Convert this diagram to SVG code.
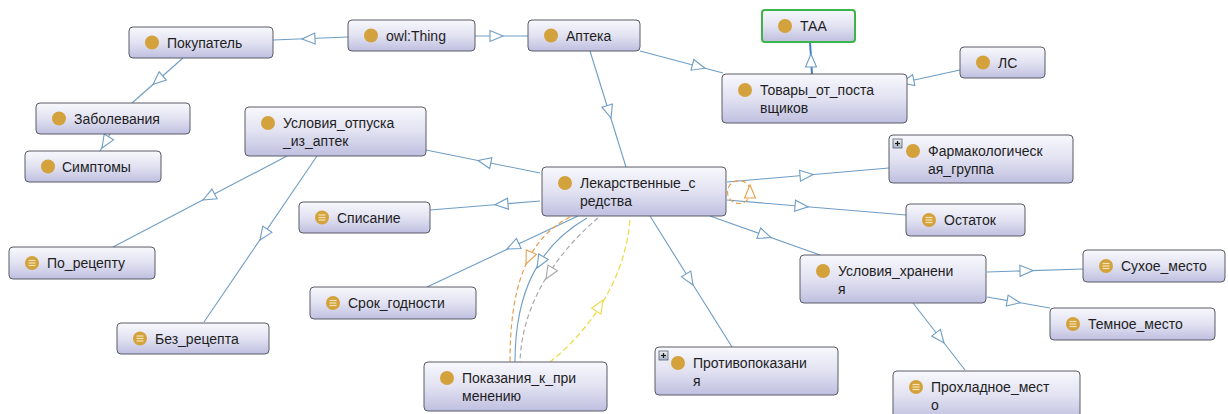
<svg xmlns="http://www.w3.org/2000/svg" xmlns:xlink="http://www.w3.org/1999/xlink" width="1228" height="414" viewBox="0 0 1228 414">
<defs>
<linearGradient id="nodeFill" x1="0" y1="0" x2="0" y2="1">
<stop offset="0" stop-color="#f8f8fd"/>
<stop offset="0.5" stop-color="#e2e2f2"/>
<stop offset="1" stop-color="#bfbfe0"/>
</linearGradient>
<linearGradient id="plusFill" x1="0" y1="0" x2="0" y2="1">
<stop offset="0" stop-color="#eef1f6"/>
<stop offset="1" stop-color="#a9b4c6"/>
</linearGradient>
<path id="tri" d="M0,0 L-13,-5.5 L-13,5.5 Z"/>
<g id="eqicon">
<circle r="7" fill="#d4a23c"/>
<line x1="-3.5" y1="-2.5" x2="3.5" y2="-2.5" stroke="#f4e4b4" stroke-width="1.2"/>
<line x1="-3.5" y1="0" x2="3.5" y2="0" stroke="#f4e4b4" stroke-width="1.2"/>
<line x1="-3.5" y1="2.5" x2="3.5" y2="2.5" stroke="#f4e4b4" stroke-width="1.2"/>
</g>
<g id="plus">
<rect x="0" y="0" width="9" height="9" fill="url(#plusFill)" stroke="#5a6272" stroke-width="0.8"/>
<line x1="2" y1="4.5" x2="7" y2="4.5" stroke="#1a1a1a" stroke-width="1.2"/>
<line x1="4.5" y1="2" x2="4.5" y2="7" stroke="#1a1a1a" stroke-width="1.2"/>
</g>
</defs>
<style>
.node rect.box { fill: url(#nodeFill); stroke: #5a5a66; stroke-width: 1; }
.node rect.sel { stroke: #3cb44a; stroke-width: 2; }
.dot { fill: #d4a23c; }
.lbl { font-family: "Liberation Sans", Arial, sans-serif; font-size: 14px; fill: #1e1e1e; }
.edge { fill: none; stroke: #6f9dc4; stroke-width: 1.1; }
.edge.hl { stroke: #3f7fc8; stroke-width: 2; }
.arr { fill: #ffffff; stroke: #6f9dc4; stroke-width: 1.1; }
.orange { fill: none; stroke: #e6a050; stroke-width: 1.2; stroke-dasharray: 5 3; }
.grey { fill: none; stroke: #a8a8a8; stroke-width: 1.2; stroke-dasharray: 5 3; }
.yellow { fill: none; stroke: #ecdc50; stroke-width: 1.3; stroke-dasharray: 6 3; }
.arrO { fill: #ffffff; stroke: #e6a050; stroke-width: 1.1; }
.arrG { fill: #ffffff; stroke: #a8a8a8; stroke-width: 1.1; }
.arrY { fill: #ffffff; stroke: #ecdc50; stroke-width: 1.2; }
</style>
<rect x="0" y="0" width="1228" height="414" fill="#ffffff"/>
<g id="connectors">
<path class="edge" d="M348,37 L273,40"/>
<use xlink:href="#tri" class="arr" transform="translate(302,39) rotate(177.7)"/>
<path class="edge" d="M475,36 L528,36"/>
<use xlink:href="#tri" class="arr" transform="translate(503,36)"/>
<path class="edge" d="M183,58 L132,103"/>
<use xlink:href="#tri" class="arr" transform="translate(153,84.5) rotate(138.6)"/>
<path class="edge" d="M110,134 L100,151"/>
<use xlink:href="#tri" class="arr" transform="translate(102,148) rotate(122)"/>
<path class="edge" d="M640,51 L723,73"/>
<use xlink:href="#tri" class="arr" transform="translate(705,68.2) rotate(14.8)"/>
<path class="edge" d="M590,51 L626,167"/>
<use xlink:href="#tri" class="arr" transform="translate(611,118) rotate(72.8)"/>
<path class="edge hl" d="M812,74 L810,42"/>
<use xlink:href="#tri" class="arr" transform="translate(811,54) rotate(-90)"/>
<path class="edge" d="M960,70 L905,82"/>
<use xlink:href="#tri" class="arr" transform="translate(901,82.8) rotate(168)"/>
<path class="edge" d="M540,173 L426,150"/>
<use xlink:href="#tri" class="arr" transform="translate(478,160.5) rotate(191.4)"/>
<path class="edge" d="M540,201 L430,210"/>
<use xlink:href="#tri" class="arr" transform="translate(495,204.7) rotate(175.3)"/>
<path class="edge" d="M727,182 L889,168"/>
<use xlink:href="#tri" class="arr" transform="translate(813,174.6) rotate(-4.9)"/>
<path class="edge" d="M727,200 L906,215"/>
<use xlink:href="#tri" class="arr" transform="translate(808,206.8) rotate(4.8)"/>
<circle class="orange" cx="739" cy="192" r="11.5"/>
<use xlink:href="#tri" class="arrO" transform="translate(750,185) rotate(-90)"/>
<path class="edge" d="M710,216 L820,255"/>
<use xlink:href="#tri" class="arr" transform="translate(771,237.6) rotate(19.9)"/>
<path class="edge" d="M650,216 L732,347"/>
<use xlink:href="#tri" class="arr" transform="translate(693,285) rotate(58)"/>
<path class="edge" d="M578,216 L427,287"/>
<use xlink:href="#tri" class="arr" transform="translate(507,249) rotate(154.8)"/>
<path class="orange" d="M570,217 C525,240 510,290 510,362"/>
<use xlink:href="#tri" class="arrO" transform="translate(526,264) rotate(114)"/>
<path class="edge" d="M587,218 C540,245 515,290 515,362"/>
<use xlink:href="#tri" class="arr" transform="translate(537,268) rotate(120)"/>
<path class="grey" d="M598,218 C560,250 522,300 520,362"/>
<use xlink:href="#tri" class="arrG" transform="translate(546,279) rotate(121)"/>
<path class="yellow" d="M630,220 C625,280 590,330 550,362"/>
<use xlink:href="#tri" class="arrY" transform="translate(603,300) rotate(-59)"/>
<path class="edge" d="M287,156 L113,247"/>
<use xlink:href="#tri" class="arr" transform="translate(203,200) rotate(152.4)"/>
<path class="edge" d="M317,156 L204,322"/>
<use xlink:href="#tri" class="arr" transform="translate(260,240) rotate(124.2)"/>
<path class="edge" d="M987,272 L1083,269"/>
<use xlink:href="#tri" class="arr" transform="translate(1033,270.5) rotate(-1.5)"/>
<path class="edge" d="M987,297 L1050,308"/>
<use xlink:href="#tri" class="arr" transform="translate(1020,302.8) rotate(10)"/>
<path class="edge" d="M913,303 L965,370"/>
<use xlink:href="#tri" class="arr" transform="translate(944,343) rotate(52.2)"/>
</g>
<g id="node-pokupatel" class="node">
<rect class="box" x="129" y="27" width="144" height="31" rx="4"/>
<circle class="dot" cx="152" cy="42.5" r="7"/>
<text class="lbl" x="167" y="47.5">Покупатель</text>
</g>
<g id="node-owlthing" class="node">
<rect class="box" x="348" y="20" width="127" height="31" rx="4"/>
<circle class="dot" cx="371" cy="35.5" r="7"/>
<text class="lbl" x="386" y="40.5">owl:Thing</text>
</g>
<g id="node-apteka" class="node">
<rect class="box" x="528" y="20" width="112" height="31" rx="4"/>
<circle class="dot" cx="551" cy="35.5" r="7"/>
<text class="lbl" x="566" y="40.5">Аптека</text>
</g>
<g id="node-taa" class="node">
<rect class="box sel" x="762" y="10" width="93" height="32" rx="3"/>
<circle class="dot" cx="785" cy="26" r="7"/>
<text class="lbl" x="800" y="31">ТАА</text>
</g>
<g id="node-tovary" class="node">
<rect class="box" x="722" y="74" width="185" height="49" rx="4"/>
<circle class="dot" cx="745" cy="90" r="7"/>
<text class="lbl" x="760" y="95">Товары_от_поста</text>
<text class="lbl" x="760" y="113">вщиков</text>
</g>
<g id="node-ls" class="node">
<rect class="box" x="960" y="47" width="85" height="31" rx="4"/>
<circle class="dot" cx="983" cy="62.5" r="7"/>
<text class="lbl" x="998" y="67.5">ЛС</text>
</g>
<g id="node-zabolevaniya" class="node">
<rect class="box" x="36" y="103" width="154" height="31" rx="4"/>
<circle class="dot" cx="59" cy="118.5" r="7"/>
<text class="lbl" x="74" y="123.5">Заболевания</text>
</g>
<g id="node-simptomy" class="node">
<rect class="box" x="25" y="151" width="136" height="31" rx="4"/>
<circle class="dot" cx="48" cy="166.5" r="7"/>
<text class="lbl" x="62" y="171.5">Симптомы</text>
</g>
<g id="node-usloviya-otpuska" class="node">
<rect class="box" x="245" y="107" width="181" height="49" rx="4"/>
<circle class="dot" cx="268" cy="123" r="7"/>
<text class="lbl" x="283" y="128">Условия_отпуска</text>
<text class="lbl" x="283" y="146">_из_аптек</text>
</g>
<g id="node-lekarstvennye" class="node">
<rect class="box" x="542" y="167" width="184" height="49" rx="4"/>
<circle class="dot" cx="565" cy="183" r="7"/>
<text class="lbl" x="580" y="188">Лекарственные_с</text>
<text class="lbl" x="580" y="206">редства</text>
</g>
<g id="node-farm" class="node">
<rect class="box" x="889" y="135" width="184" height="48" rx="4"/>
<use xlink:href="#plus" transform="translate(893,139)"/>
<circle class="dot" cx="913" cy="151" r="7"/>
<text class="lbl" x="928" y="156">Фармакологическ</text>
<text class="lbl" x="928" y="174">ая_группа</text>
</g>
<g id="node-ostatok" class="node">
<rect class="box" x="906" y="204" width="119" height="32" rx="4"/>
<use xlink:href="#eqicon" transform="translate(929,220)"/>
<text class="lbl" x="944" y="225">Остаток</text>
</g>
<g id="node-spisanie" class="node">
<rect class="box" x="299" y="202" width="131" height="31" rx="4"/>
<use xlink:href="#eqicon" transform="translate(322,217.5)"/>
<text class="lbl" x="337" y="222.5">Списание</text>
</g>
<g id="node-po-receptu" class="node">
<rect class="box" x="9" y="247" width="146" height="32" rx="4"/>
<use xlink:href="#eqicon" transform="translate(32,263)"/>
<text class="lbl" x="47" y="268">По_рецепту</text>
</g>
<g id="node-bez-recepta" class="node">
<rect class="box" x="117" y="323" width="152" height="31" rx="4"/>
<use xlink:href="#eqicon" transform="translate(140,338.5)"/>
<text class="lbl" x="155" y="343.5">Без_рецепта</text>
</g>
<g id="node-srok" class="node">
<rect class="box" x="310" y="287" width="166" height="32" rx="4"/>
<use xlink:href="#eqicon" transform="translate(333,303)"/>
<text class="lbl" x="348" y="308">Срок_годности</text>
</g>
<g id="node-pokazaniya" class="node">
<rect class="box" x="424" y="362" width="183" height="49" rx="4"/>
<circle class="dot" cx="447" cy="378" r="7"/>
<text class="lbl" x="462" y="383">Показания_к_при</text>
<text class="lbl" x="462" y="401">менению</text>
</g>
<g id="node-protivopokazaniya" class="node">
<rect class="box" x="655" y="347" width="183" height="48" rx="4"/>
<use xlink:href="#plus" transform="translate(659,351)"/>
<circle class="dot" cx="678" cy="363" r="7"/>
<text class="lbl" x="693" y="368">Противопоказани</text>
<text class="lbl" x="693" y="386">я</text>
</g>
<g id="node-usloviya-hraneniya" class="node">
<rect class="box" x="800" y="255" width="186" height="48" rx="4"/>
<circle class="dot" cx="823" cy="271" r="7"/>
<text class="lbl" x="838" y="276">Условия_хранени</text>
<text class="lbl" x="838" y="294">я</text>
</g>
<g id="node-suhoe" class="node">
<rect class="box" x="1083" y="250" width="142" height="32" rx="4"/>
<use xlink:href="#eqicon" transform="translate(1106,266)"/>
<text class="lbl" x="1121" y="271">Сухое_место</text>
</g>
<g id="node-temnoe" class="node">
<rect class="box" x="1050" y="308" width="165" height="32" rx="4"/>
<use xlink:href="#eqicon" transform="translate(1073,324)"/>
<text class="lbl" x="1088" y="329">Темное_место</text>
</g>
<g id="node-prohladnoe" class="node">
<rect class="box" x="893" y="371" width="187" height="49" rx="4"/>
<use xlink:href="#eqicon" transform="translate(916,387)"/>
<text class="lbl" x="931" y="392">Прохладное_мест</text>
<text class="lbl" x="931" y="410">о</text>
</g>
</svg>
